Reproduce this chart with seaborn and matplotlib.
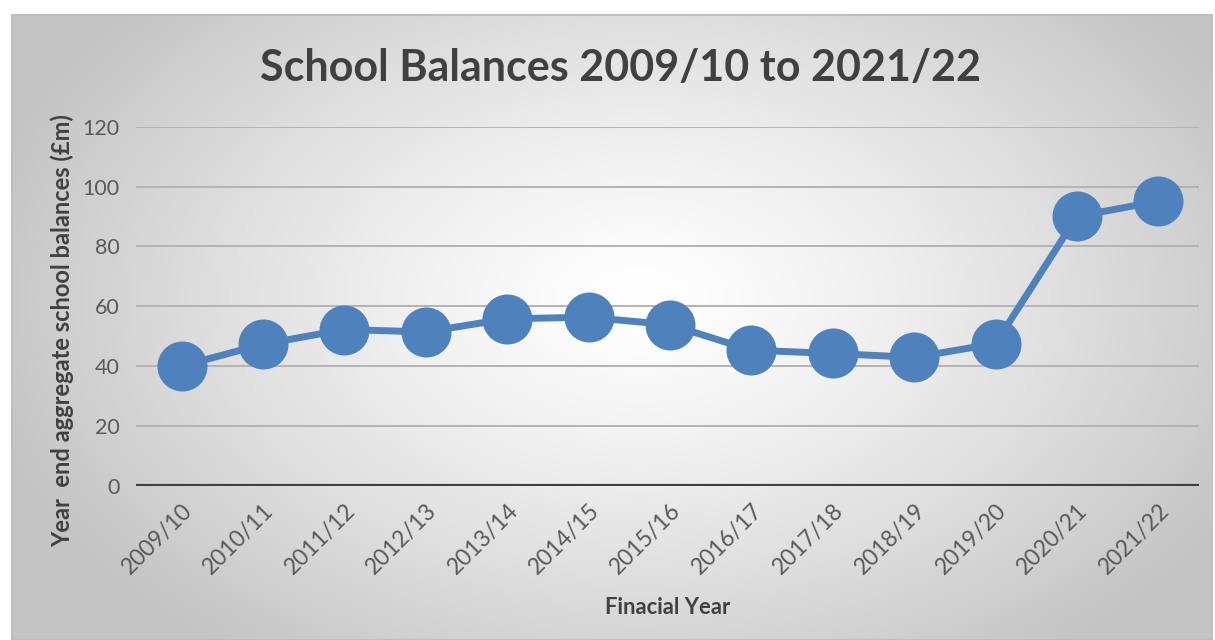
import numpy as np
import pandas as pd
import matplotlib
matplotlib.use("Agg")
import matplotlib.pyplot as plt
import seaborn as sns
from matplotlib.patches import Rectangle

years = ["2009/10", "2010/11", "2011/12", "2012/13", "2013/14", "2014/15", "2015/16",
         "2016/17", "2017/18", "2018/19", "2019/20", "2020/21", "2021/22"]
balances = [40.0, 47.3, 52.2, 51.4, 55.8, 56.3, 53.8, 45.3, 44.2, 42.9, 47.5, 90.0, 95.1]
y_ticks = [0, 20, 40, 60, 80, 100, 120]

title = "School Balances 2009/10 to 2021/22"
x_label = "Finacial Year"
y_label = "Year  end aggregate school balances (£m)"

sns.set_theme(style="white")
plt.rcParams['font.family'] = ['Lato', 'DejaVu Sans']

W, H = 1215, 640
fig = plt.figure(figsize=(W / 100, H / 100), dpi=100)
fig.patch.set_facecolor("white")

# gradient background panel
bx0, by0, bx1, by1 = 11, 14, 1213, 640
bg = fig.add_axes([bx0 / W, 1 - by1 / H, (bx1 - bx0) / W, (by1 - by0) / H], zorder=-5)
gx = np.linspace(bx0, bx1, 600)
gy = np.linspace(by0, by1, 320)
GX, GY = np.meshgrid(gx, gy)
cx, cy = 640, 300
r = np.sqrt(((GX - cx) / 640) ** 2 + ((GY - cy) / 420) ** 2)
r = np.clip(r / 1.05, 0, 1)
val = 1.0 - 0.23 * r ** 1.3
img = np.dstack([val, val, val])
bg.imshow(img, aspect="auto", extent=[0, 1, 0, 1], interpolation="bilinear")
bg.set_axis_off()
bg.add_patch(Rectangle((0, 0), 1, 1, transform=bg.transAxes, fill=False,
                       edgecolor="#bdbdbd", linewidth=2.0))

# main axes
left, right = 136 / W, 1199 / W
top, bottom = 126.7 / H, 485.7 / H
ax = fig.add_axes([left, 1 - bottom, right - left, bottom - top])
ax.set_facecolor("none")

df = pd.DataFrame({"year": years, "balance": balances})
df["pos"] = np.arange(len(years))
sns.lineplot(data=df, x="pos", y="balance", ax=ax, color="#4f81bd", linewidth=5.0,
             marker="o", markersize=36, markeredgewidth=0, sort=False, zorder=3)

ax.set_xlim(-0.56, len(years) - 0.5)
ax.set_ylim(0, 120)
ax.set_yticks(y_ticks)
ax.set_yticklabels([str(t) for t in y_ticks], fontsize=15.5, color="#595959")
ax.set_xticks(range(len(years)))
ax.set_xticklabels(years, rotation=45, ha="right", rotation_mode="anchor",
                   fontsize=16.5, color="#595959")
ax.tick_params(axis="both", length=0, pad=12)
ax.tick_params(axis="x", pad=10)
for t in y_ticks[1:]:
    ax.axhline(t, color="#b3b3b3", linewidth=1.4, zorder=1)
ax.axhline(0, color="#404040", linewidth=3.0, zorder=2)
for s in ax.spines.values():
    s.set_visible(False)

ax.set_xlabel(x_label, fontsize=15.8, fontweight="bold", color="#404040", labelpad=14)
ax.set_ylabel(y_label, fontsize=17.0, fontweight="bold", color="#404040",
              va="center", ha="center")
ax.yaxis.set_label_coords((62 - 136) / (1199 - 136), (485.7 - 331) / (485.7 - 126.7))

fig.text(620 / W, 1 - 68 / H, title, ha="center", va="center", fontsize=31,
         fontweight="bold", color="#404040")

fig.savefig("out.png", dpi=100)
